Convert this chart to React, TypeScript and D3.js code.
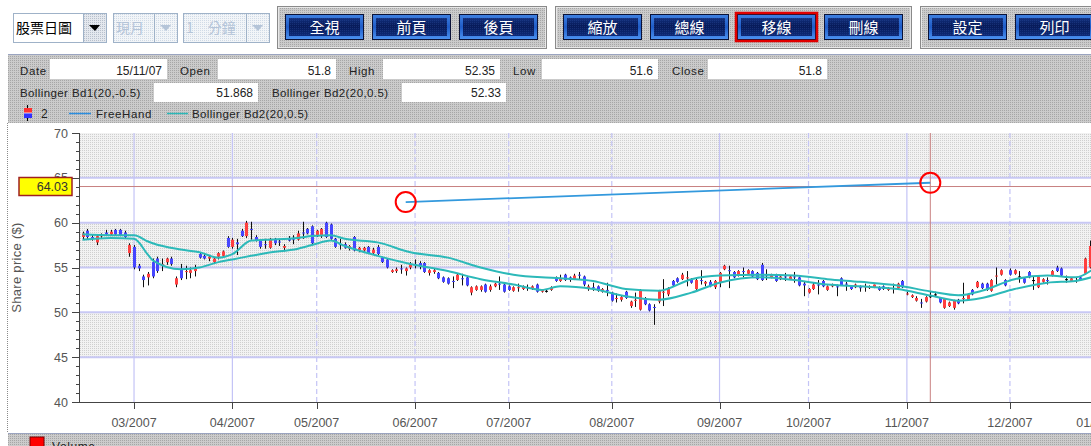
import React from 'react';
import * as d3 from 'd3';

// ---------- DATA ----------
const openP = [58.4,59.1,58.4,57.8,58.5,58.9,58.7,59.2,59.2,58.9,56.6,57.3,55.2,54.0,53.9,55.6,56.0,55.3,55.6,56.0,
53.1,54.9,54.5,54.4,54.6,56.5,56.3,56.0,55.6,56.2,56.3,58.3,57.3,57.8,59.1,58.5,59.3,58.4,58.0,57.6,
57.2,58.2,57.9,57.2,58.3,58.3,58.1,58.9,59.3,59.6,58.6,58.6,60.0,59.8,58.2,57.6,57.6,57.1,58.4,56.9,
56.9,57.3,56.6,57.3,56.1,55.9,54.5,54.6,54.9,54.6,55.0,55.4,55.5,55.5,54.4,54.5,54.4,53.9,53.8,53.5,
53.6,53.8,53.9,52.2,52.5,52.5,53.1,52.5,52.9,53.2,53.1,52.9,52.4,52.7,52.6,52.8,52.6,53.1,52.3,52.4,
52.5,53.9,53.5,54.2,53.9,53.7,54.2,54.0,52.6,52.8,52.9,52.3,52.5,52.2,51.5,51.4,52.3,50.7,51.3,50.3,
51.6,50.9,50.6,51.2,52.2,52.0,53.5,53.8,53.7,53.8,53.7,52.6,53.6,53.2,53.4,52.8,53.3,54.8,54.7,54.5,
54.1,54.6,54.3,54.6,54.4,55.3,54.2,53.9,54.2,53.7,54.0,53.7,54.0,53.9,53.2,52.2,52.6,53.1,53.5,52.5,
52.9,52.9,53.8,53.2,52.9,52.8,52.8,52.8,52.7,52.8,52.8,52.9,52.5,52.7,52.7,53.5,52.0,51.7,51.3,51.1,
51.2,51.8,52.0,51.6,50.5,50.7,50.5,51.4,51.5,51.4,52.5,52.8,53.2,53.2,52.4,54.0,54.2,53.6,54.7,54.3,
54.0,53.8,54.5,53.6,52.8,53.4,53.6,54.1,55.0,54.9,53.7,53.5,53.6,53.9,54.3,55.0];
const highP = [59.0,59.3,58.7,58.7,58.8,59.2,59.2,59.3,59.3,59.1,57.7,57.5,55.4,54.2,54.5,56.0,56.2,56.0,56.1,56.2,
54.0,55.4,55.2,55.0,55.3,56.6,56.5,56.4,56.1,56.7,56.9,58.5,58.3,58.2,59.3,60.2,60.1,58.6,58.1,58.2,
58.3,58.3,58.2,57.6,58.5,58.6,59.1,60.1,59.4,59.7,59.2,59.4,60.1,59.9,58.3,58.2,57.8,57.5,58.5,57.3,
57.3,57.4,57.2,57.5,56.2,56.0,54.8,55.0,55.3,55.0,55.6,55.9,55.7,55.6,54.8,54.9,54.5,54.0,53.9,54.0,
54.3,54.3,54.0,52.9,53.0,53.0,53.2,53.1,53.3,54.0,53.2,53.0,52.9,53.2,53.0,53.1,53.0,53.2,52.6,52.6,
52.9,54.0,54.2,54.3,54.0,54.3,54.5,54.1,53.1,53.3,53.0,52.7,53.3,52.3,52.1,51.8,52.4,51.3,52.2,52.6,
51.7,51.0,50.9,52.5,53.7,52.8,53.6,53.9,54.4,54.6,53.8,53.8,54.7,53.5,53.6,53.6,54.5,55.3,55.2,54.6,
54.7,55.0,54.8,54.7,54.5,55.5,54.8,54.3,54.3,54.1,54.4,54.1,54.5,54.0,53.5,52.7,53.3,53.6,53.6,53.0,
53.2,53.1,53.9,53.4,53.0,53.2,53.0,53.2,53.0,53.1,52.9,53.0,52.8,53.2,53.3,53.6,52.3,52.0,51.8,51.5,
51.8,52.35,52.3,51.7,51.6,51.2,51.4,51.5,53.3,52.1,52.6,53.5,53.3,53.3,53.7,55.0,54.8,53.7,54.9,54.8,
54.6,53.9,54.6,54.0,54.1,53.8,53.9,54.7,55.2,55.0,54.1,53.9,53.9,54.0,56.1,58.0];
const lowP = [58.1,58.2,58.0,57.5,58.3,58.6,58.6,58.6,58.5,58.2,56.2,54.8,54.6,52.8,53.0,53.8,54.4,54.6,55.3,55.2,
52.8,53.6,53.7,53.8,54.0,56.0,55.9,55.7,55.5,55.9,56.1,57.2,57.1,56.4,58.4,58.3,58.1,57.9,57.1,57.1,
57.1,57.5,57.4,56.8,57.9,57.6,58.0,58.2,58.7,57.6,58.4,58.3,58.3,58.1,57.2,57.0,57.1,56.9,56.8,56.7,
56.6,56.5,56.4,56.4,55.5,54.9,54.4,54.4,54.3,54.1,54.8,54.9,54.8,54.4,54.1,54.3,53.7,53.3,53.1,52.7,
53.5,53.0,52.9,51.9,52.4,52.3,52.2,52.3,52.8,52.5,52.2,52.4,52.3,52.3,52.5,52.4,52.5,52.2,52.2,52.2,
52.4,53.4,53.4,53.5,53.4,53.6,53.7,52.9,52.4,52.4,52.3,52.2,51.8,51.2,51.1,51.2,51.5,50.5,50.6,50.2,
50.8,50.1,48.6,51.0,50.7,51.8,52.9,53.3,53.6,52.9,53.2,52.5,53.1,52.9,52.8,52.6,52.8,54.7,52.7,53.8,
54.0,53.9,54.2,53.9,53.6,53.5,53.6,53.8,53.4,53.6,53.5,53.6,53.3,52.9,51.8,52.1,52.5,52.0,52.8,52.4,
52.8,51.8,53.0,52.4,52.5,52.7,52.3,52.3,52.6,52.7,52.4,52.5,52.4,52.1,52.6,52.7,51.9,51.6,51.2,50.5,
51.1,51.6,51.7,51.0,50.4,50.6,50.3,50.9,51.0,51.3,51.9,52.7,52.6,52.4,52.3,53.1,54.1,52.9,54.1,54.2,
53.3,53.2,53.8,52.5,52.7,53.3,53.1,54.0,54.5,54.0,53.3,53.4,53.3,53.6,54.2,54.9];
const closeP = [58.8,58.4,58.2,58.5,58.6,58.7,59.0,58.7,58.6,58.4,57.5,55.0,54.9,53.6,54.3,54.0,54.6,55.4,56.0,55.4,
53.8,53.8,54.6,54.7,54.9,56.1,56.0,56.2,56.0,56.6,56.8,57.3,58.1,57.6,58.5,60.0,59.2,58.0,57.3,57.5,
58.2,57.7,57.8,57.4,58.0,58.1,58.8,58.8,58.8,57.7,59.1,59.3,58.4,58.2,57.3,57.5,57.2,57.4,56.9,57.2,
57.2,56.6,57.0,56.5,55.6,55.0,54.7,54.8,54.8,54.9,55.4,55.3,55.1,54.5,54.7,54.7,53.8,53.4,53.2,53.4,
54.2,53.7,53.0,52.8,52.9,52.9,52.3,52.9,53.2,53.1,52.3,52.5,52.8,52.8,52.9,52.7,52.9,52.3,52.5,52.4,
52.8,53.5,53.8,53.6,53.6,54.1,54.1,53.1,52.9,52.7,52.4,52.6,52.4,51.3,51.6,51.7,51.6,51.2,51.4,52.4,
50.9,50.2,50.5,52.4,52.3,52.6,53.0,53.4,54.2,53.9,53.3,53.6,53.5,53.4,52.9,53.5,54.4,55.2,54.6,53.9,
54.6,54.5,54.7,54.0,53.7,53.6,54.1,54.2,53.5,54.0,53.9,54.0,53.9,53.0,53.0,52.6,53.1,53.0,52.9,52.9,
53.1,52.8,53.0,53.1,52.6,53.1,52.7,52.9,52.9,53.1,52.5,52.6,52.7,52.6,53.2,52.8,52.1,51.9,51.6,51.0,
51.7,51.8,52.0,51.1,51.5,51.1,51.3,51.0,51.6,52.0,52.0,53.4,52.7,52.5,53.6,54.1,54.7,53.0,54.2,54.7,
54.0,53.3,53.9,53.6,54.0,53.7,53.5,54.6,54.6,54.1,53.7,53.8,53.5,53.7,56.0,57.4];

// Bollinger bands sampled at trading-day indices
const bandIdx = [0,6,11,14,15,21,25,29,32,36,39,46,49,53,56,63,70,78,85,92,98,102,109,116,123,130,136,145,152,159,166,174,181,187,192,199,206,212,216];
const bandUpper = [58.7,58.6,58.6,57.9,57.7,57.0,56.7,56.1,56.5,58.0,58.1,58.3,58.5,58.6,58.2,57.8,56.7,56.1,55.0,54.2,53.9,53.8,53.5,52.6,52.4,53.7,54.1,54.2,54.1,53.7,53.4,53.0,52.33,51.9,52.4,53.7,54.1,53.9,54.9];
const bandLower = [58.1,58.3,58.2,56.4,55.8,54.8,55.0,55.6,55.9,56.3,56.6,57.1,57.5,58.0,57.4,56.3,55.4,54.6,53.7,53.1,52.5,52.9,52.6,51.8,51.4,52.2,53.3,53.9,53.6,53.1,52.9,52.6,51.87,51.3,51.6,52.6,53.3,53.5,54.0];

// Free-hand line drawn by user (index, price)
const freeHandIdx = [69, 181];
const freeHandVal = [62.3, 64.45];

const selectedIdx = 181;
const crossValue = 64.03;

const monthLabels = ['03/2007','04/2007','05/2007','06/2007','07/2007','08/2007','09/2007','10/2007','11/2007','12/2007','01/2008'];
const monthIdx = [11, 32, 50, 71, 91, 113, 136, 155, 176, 198, 217];
const monthSolid = [true, true, false, false, false, false, true, false, true, false, true];

const yTicks = [40, 45, 50, 55, 60, 65, 70];

const infoRow1Labels = ['Date', 'Open', 'High', 'Low', 'Close'];
const infoRow1Values = ['15/11/07', '51.8', '52.35', '51.6', '51.8'];
const infoRow2Labels = ['Bollinger Bd1(20,-0.5)', 'Bollinger Bd2(20,0.5)'];
const infoRow2Values = ['51.868', '52.33'];

const buttonGroups = [['全視', '前頁', '後頁'], ['縮放', '總線', '移線', '刪線'], ['設定', '列印']];
const activeButton = '移線';

// ---------- LAYOUT ----------
const W = 1091, H = 446;
const PL = 79, PR = 1091, PT = 133, PB = 402;
const FONT = '"Liberation Sans", Arial, sans-serif';
const CJK = '"Noto Sans CJK TC", "Noto Sans CJK SC", sans-serif';

function Button({ x, y, w, h, label, active }: any) {
  return (
    <g>
      <rect x={x} y={y} width={w} height={h} fill="#0a1238" />
      <rect x={x + 1} y={y + 1} width={w - 2} height={h - 2} fill="url(#btnEdge)" />
      <rect x={x + 4} y={y + 4} width={w - 8} height={h - 8} fill="url(#btnGrad)" />
      <rect x={x + 4} y={y + 4} width={w - 8} height={h - 8} fill="url(#btnTex)" opacity={0.35} />
      {active && <rect x={x - 1} y={y - 1} width={w + 2} height={h + 2} fill="none" stroke="#e00000" strokeWidth={2.5} />}
      <text x={x + w / 2} y={y + h / 2 + 5.5} textAnchor="middle" fill="#ffffff" fontSize={15} fontFamily={CJK}>{label}</text>
    </g>
  );
}

function Dropdown({ x, w, label, disabled }: any) {
  const y = 13, h = 30, bw = 24;
  const col = disabled ? '#b4c4d8' : '#000';
  return (
    <g>
      <rect x={x + 0.5} y={y + 0.5} width={w - bw} height={h - 1} fill={disabled ? 'url(#lightPat)' : '#fff'} stroke="#9fb2c8" />
      <rect x={x + w - bw + 0.5} y={y + 0.5} width={bw - 1} height={h - 1} fill={disabled ? 'url(#lightPat)' : 'url(#ddPat)'} stroke="#9fb2c8" />
      <path d={`M${x + w - bw + 6},${y + 12} L${x + w - 7},${y + 12} L${x + w - bw / 2},${y + 18} Z`} fill={disabled ? '#b4c4d8' : '#000'} />
      <text x={x + 3} y={y + 20} fontSize={14} fontFamily={CJK} fill={col}>{label}</text>
    </g>
  );
}

export default function App() {
  const n = openP.length;
  const step = 4.684;
  const x = d3.scaleLinear().domain([0, n - 1]).range([82.5, 82.5 + (n - 1) * step]);
  const y = d3.scaleLinear().domain([40, 70]).range([PB, PT]);

  const upperLine = d3.line<number>().x((_, i) => x(bandIdx[i])).y(d => y(d)).curve(d3.curveMonotoneX)(bandUpper) || '';
  const lowerLine = d3.line<number>().x((_, i) => x(bandIdx[i])).y(d => y(d)).curve(d3.curveMonotoneX)(bandLower) || '';

  const bands = [[65, 70], [55, 60], [45, 50]];
  const minorTicks = d3.range(40, 71, 1);

  const groupX = [277, 555, 920];
  const btnW = 79, btnGap = 8;

  const row1LabelX = [20, 180, 349, 513, 672];
  const row1BoxX = [50, 218, 383, 542, 708];
  const row1BoxW = [117, 118, 117, 116, 119];

  return (
    <svg width={W} height={H} style={{ position: 'fixed', left: 0, top: 0, background: '#fff' }}>
      <defs>
        <pattern id="grayPat" width={2} height={2} patternUnits="userSpaceOnUse">
          <rect width={2} height={2} fill="#cbcbcb" />
          <rect width={1} height={1} fill="#a6a6a6" />
        </pattern>
        <pattern id="ddPat" width={2} height={2} patternUnits="userSpaceOnUse">
          <rect width={2} height={2} fill="#e4e8ee" />
          <rect width={1} height={1} fill="#b8c0cc" />
        </pattern>
        <pattern id="lightPat" width={2} height={2} patternUnits="userSpaceOnUse">
          <rect width={2} height={2} fill="#f2f5f8" />
          <rect width={1} height={1} fill="#d0dae6" />
        </pattern>
        <pattern id="bandPat" width={2} height={2} patternUnits="userSpaceOnUse">
          <rect width={2} height={2} fill="#f2f2f2" />
          <rect width={1} height={1} fill="#cfcfcf" />
        </pattern>
        <pattern id="btnTex" width={2} height={2} patternUnits="userSpaceOnUse">
          <rect width={1} height={1} fill="#3050a0" />
        </pattern>
        <linearGradient id="btnGrad" x1="0" y1="0" x2="0" y2="1">
          <stop offset="0%" stopColor="#12307e" />
          <stop offset="45%" stopColor="#071a58" />
          <stop offset="100%" stopColor="#0d2a78" />
        </linearGradient>
        <linearGradient id="btnEdge" x1="0" y1="0" x2="0" y2="1">
          <stop offset="0%" stopColor="#3d7fe0" />
          <stop offset="50%" stopColor="#1f5cc8" />
          <stop offset="100%" stopColor="#4a90f0" />
        </linearGradient>
        <clipPath id="plotClip">
          <rect x={PL} y={PT - 20} width={PR - PL} height={PB - PT + 20} />
        </clipPath>
      </defs>

      {/* ---------- toolbar ---------- */}
      <Dropdown x={13} w={94} label="股票日圖" />
      <Dropdown x={113} w={65} label="現月" disabled />
      <Dropdown x={183} w={87} label="1　分鐘" disabled />
      {buttonGroups.map((grp, gi) => {
        const gx = groupX[gi];
        const gw = grp.length * btnW + (grp.length - 1) * btnGap + 16;
        return (
          <g key={gi}>
            <rect x={gx + 0.5} y={6.5} width={gw} height={42} fill="url(#grayPat)" stroke="#8a8a8a" />
            <rect x={gx + 1.5} y={7.5} width={gw - 2} height={40} fill="none" stroke="#e8e8e8" strokeWidth={1} />
            {grp.map((b, bi) => (
              <Button key={b} x={gx + 8 + bi * (btnW + btnGap)} y={14} w={btnW} h={26} label={b} active={b === activeButton} />
            ))}
          </g>
        );
      })}

      {/* ---------- info panel ---------- */}
      <rect x={8} y={54} width={W - 8} height={69} fill="url(#grayPat)" />
      <line x1={8} y1={54.5} x2={W} y2={54.5} stroke="#9aa4c0" />
      {infoRow1Labels.map((l, i) => (
        <g key={l}>
          <text x={row1LabelX[i]} y={75} fontSize={11.5} fontFamily={FONT} fill="#222" letterSpacing={0.6}>{l}</text>
          <rect x={row1BoxX[i]} y={59} width={row1BoxW[i]} height={20} fill="#fff" />
          <text x={row1BoxX[i] + row1BoxW[i] - 5} y={75} fontSize={12} fontFamily={FONT} fill="#222" textAnchor="end">{infoRow1Values[i]}</text>
        </g>
      ))}
      {infoRow2Labels.map((l, i) => {
        const lx = [20, 272][i];
        const bx = [154, 402][i];
        return (
          <g key={l}>
            <text x={lx} y={97} fontSize={11.5} fontFamily={FONT} fill="#222" letterSpacing={0.4}>{l}</text>
            <rect x={bx} y={83} width={104} height={19} fill="#fff" />
            <text x={bx + 99} y={97} fontSize={12} fontFamily={FONT} fill="#222" textAnchor="end">{infoRow2Values[i]}</text>
          </g>
        );
      })}
      {/* legend row */}
      <line x1={27.5} y1={105} x2={27.5} y2={121} stroke="#000" />
      <rect x={24} y={108} width={8} height={5} fill="#ff3030" />
      <rect x={24} y={113} width={8} height={5} fill="#3030ff" />
      <line x1={24} y1={113} x2={32} y2={113} stroke="#fff" strokeWidth={0.8} />
      <text x={41} y={118} fontSize={12} fontFamily={FONT} fill="#222">2</text>
      <line x1={69} y1={113.5} x2={91} y2={113.5} stroke="#2a8ee0" strokeWidth={1.5} />
      <text x={96} y={118} fontSize={11.5} fontFamily={FONT} fill="#222" letterSpacing={0.6}>FreeHand</text>
      <line x1={167} y1={113.5} x2={188} y2={113.5} stroke="#2ab8b8" strokeWidth={1.5} />
      <text x={192} y={118} fontSize={11.5} fontFamily={FONT} fill="#222" letterSpacing={0.4}>Bollinger Bd2(20,0.5)</text>

      {/* ---------- chart panel ---------- */}
      <rect x={8} y={123} width={W - 8} height={310} fill="#fff" />
      <line x1={7.5} y1={123} x2={7.5} y2={433} stroke="#8a8a8a" strokeDasharray="1,1" />

      {bands.map(([a, b]) => (
        <rect key={a} x={PL} y={y(b)} width={PR - PL} height={y(a) - y(b)} fill="url(#bandPat)" />
      ))}
      {[45, 50, 55, 60, 65].map(v => (
        <line key={v} x1={PL} x2={PR} y1={y(v)} y2={y(v)} stroke="#c8c8f4" strokeWidth={2} />
      ))}
      {monthIdx.map((m, i) => (
        <line key={m} x1={x(m)} x2={x(m)} y1={PT} y2={PB} stroke="#c4c4f6" strokeWidth={1.2}
          strokeDasharray={monthSolid[i] ? undefined : '5,3'} />
      ))}

      {/* crosshair */}
      <line x1={PL} x2={PR} y1={y(crossValue)} y2={y(crossValue)} stroke="#c88080" strokeWidth={1} />
      <line x1={x(selectedIdx)} x2={x(selectedIdx)} y1={PT} y2={PB} stroke="#c88080" strokeWidth={1} />

      <g clipPath="url(#plotClip)">
        {openP.map((o, i) => {
          const c = closeP[i];
          const cx = Math.round(x(i)) + 0.5;
          const top = y(Math.max(o, c));
          const bot = y(Math.min(o, c));
          const col = c > o ? '#ff4040' : c < o ? '#4646ff' : '#000';
          return (
            <g key={i}>
              <line x1={cx} x2={cx} y1={y(highP[i])} y2={y(lowP[i])} stroke="#111" strokeWidth={1} />
              <rect x={cx - 1.5} y={top} width={3} height={Math.max(1, bot - top)} fill={col} />
            </g>
          );
        })}
        <path d={upperLine} fill="none" stroke="#2cb9b9" strokeWidth={2} />
        <path d={lowerLine} fill="none" stroke="#2cb9b9" strokeWidth={2} />
        <line x1={x(freeHandIdx[0])} y1={y(freeHandVal[0])} x2={x(freeHandIdx[1])} y2={y(freeHandVal[1])} stroke="#3399dd" strokeWidth={1.8} />
      </g>
      {freeHandIdx.map((fi, i) => (
        <circle key={fi} cx={x(fi)} cy={y(freeHandVal[i])} r={10} fill="none" stroke="#ff0000" strokeWidth={2} />
      ))}

      {/* axes */}
      <line x1={PL + 0.5} x2={PL + 0.5} y1={PT} y2={PB} stroke="#444" />
      {minorTicks.map(v => (
        <line key={v} x1={v % 5 === 0 ? PL - 7 : PL - 3} x2={PL} y1={Math.round(y(v)) + 0.5} y2={Math.round(y(v)) + 0.5} stroke="#444" />
      ))}
      {yTicks.map(v => (
        <text key={v} x={68} y={y(v) + 4.5} textAnchor="end" fontSize={12.5} fontFamily={FONT} fill="#555">{v}</text>
      ))}
      <text transform={`translate(21,${(PT + PB) / 2}) rotate(-90)`} textAnchor="middle" fontSize={13} fontFamily={FONT} fill="#555" letterSpacing={0.3}>Share price ($)</text>
      <line x1={PL} x2={PR} y1={PB + 0.5} y2={PB + 0.5} stroke="#444" />
      {monthIdx.map((m, i) => (
        <g key={m}>
          <line x1={Math.round(x(m)) + 0.5} x2={Math.round(x(m)) + 0.5} y1={PB} y2={PB + 7} stroke="#444" />
          <text x={x(m)} y={427} textAnchor="middle" fontSize={12.5} fontFamily={FONT} fill="#555">{monthLabels[i]}</text>
        </g>
      ))}

      {/* value label */}
      <rect x={19} y={177.5} width={53} height={18} fill="#ffff00" stroke="#a02020" strokeWidth={1.5} />
      <text x={68} y={191} textAnchor="end" fontSize={12.5} fontFamily={FONT} fill="#333">{crossValue.toFixed(2)}</text>

      {/* ---------- volume panel ---------- */}
      <rect x={8} y={433} width={W - 8} height={13} fill="url(#grayPat)" />
      <line x1={8} y1={433.5} x2={W} y2={433.5} stroke="#9aa4c0" />
      <rect x={30} y={437} width={14} height={14} fill="#ff0000" stroke="#700" />
      <text x={52} y={451} fontSize={12} fontFamily={FONT} fill="#222" letterSpacing={0.6}>Volume</text>
    </svg>
  );
}
